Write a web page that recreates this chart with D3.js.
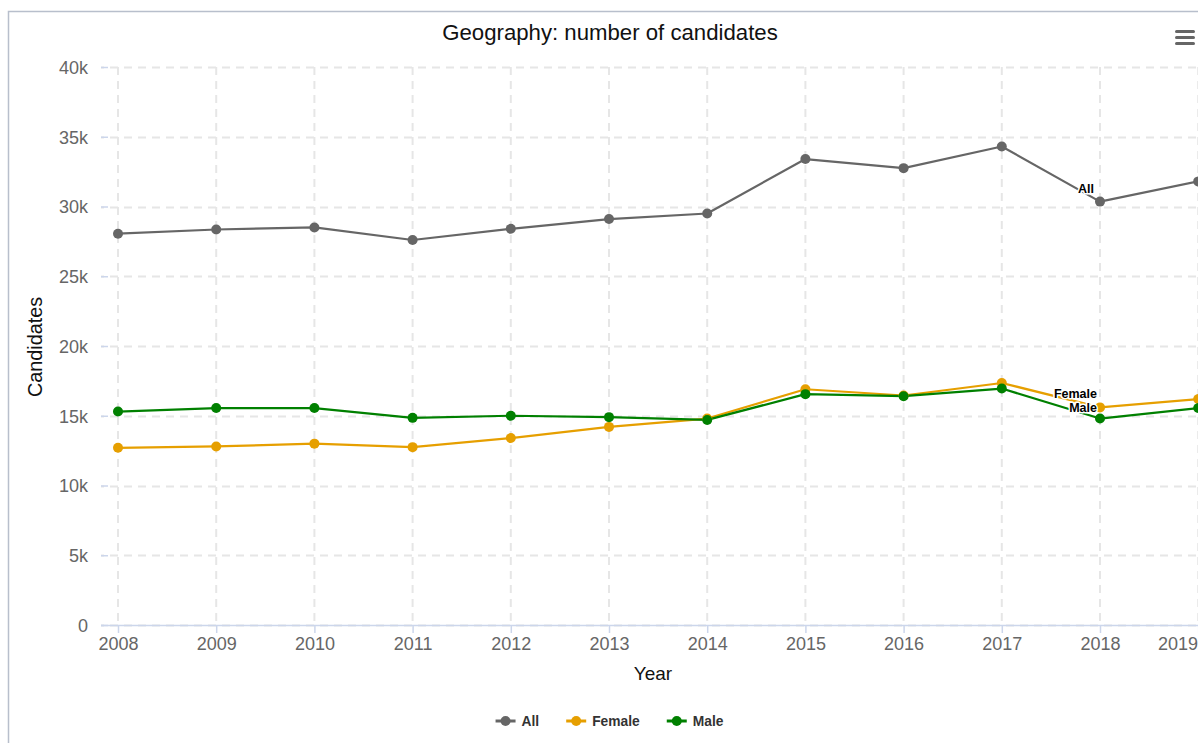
<!DOCTYPE html>
<html>
<head>
<meta charset="utf-8">
<script src="https://cdn.jsdelivr.net/npm/d3@7"></script>
<style>
html,body{margin:0;padding:0;background:#fff;overflow:hidden;}
svg{display:block;font-family:"Liberation Sans",Arial,Helvetica,sans-serif;}
</style>
</head>
<body>
<svg id="chart" width="1198" height="743"></svg>
<script>
const years = [2008,2009,2010,2011,2012,2013,2014,2015,2016,2017,2018,2019];
const allValues    = [28050,28350,28500,27600,28400,29100,29500,33400,32750,34300,30350,31800];
const femaleValues = [12700,12800,13000,12750,13400,14200,14800,16900,16450,17350,15600,16200];
const maleValues   = [15300,15550,15550,14850,15000,14900,14700,16550,16400,16950,14800,15550];
const yTicks = [0,5000,10000,15000,20000,25000,30000,35000,40000];
const yTickLabels = ["0","5k","10k","15k","20k","25k","30k","35k","40k"];
const seriesNames = ["All","Female","Male"];
const seriesColors = ["#666666","#E69F00","#008000"];
const seriesData = [allValues, femaleValues, maleValues];

const svg = d3.select("#chart");
const W = 1198, H = 743;
const plotLeft = 101, plotTop = 67, plotBottom = 625;

const x = d3.scaleLinear().domain([2008,2019]).range([118, 1198.2]);
const y = d3.scaleLinear().domain([0,40000]).range([plotBottom, plotTop]);

// container border
svg.append("path").attr("d", `M8.5,${H} L8.5,11.5 L${W},11.5`)
  .attr("fill","none").attr("stroke","#b8bfcc").attr("stroke-width",1.5);

// horizontal gridlines
svg.append("g").selectAll("line").data(yTicks).join("line")
  .attr("x1", plotLeft).attr("x2", W)
  .attr("y1", d => Math.round(y(d))+0.5).attr("y2", d => Math.round(y(d))+0.5)
  .attr("stroke","#e6e6e6").attr("stroke-width",2).attr("stroke-dasharray","8,6")
  .attr("stroke-dashoffset",-9);

// vertical gridlines
svg.append("g").selectAll("line").data(years).join("line")
  .attr("x1", d => x(d)).attr("x2", d => x(d))
  .attr("y1", plotTop).attr("y2", plotBottom)
  .attr("stroke","#e6e6e6").attr("stroke-width",2).attr("stroke-dasharray","8,6");

// y axis
const yAxis = d3.axisLeft(y).tickValues(yTicks).tickSize(7).tickPadding(13)
  .tickFormat((d,i) => yTickLabels[i]);
const gy = svg.append("g").attr("transform", `translate(${plotLeft+7},0)`).call(yAxis);
gy.select(".domain").remove();
gy.selectAll(".tick line").attr("stroke","#ccd6eb").attr("stroke-width",1.5);
gy.selectAll(".tick text").attr("fill","#666").style("font-size","18px")
  .style("font-family","'Liberation Sans',Arial,sans-serif").attr("dy","0.36em");

// x axis
const xAxis = d3.axisBottom(x).tickValues(years).tickSize(8).tickPadding(4)
  .tickFormat(d3.format("d"));
const gx = svg.append("g").attr("transform", `translate(0,${plotBottom})`).call(xAxis);
gx.select(".domain").remove();
gx.selectAll(".tick line").attr("stroke","#ccd6eb").attr("stroke-width",1.5);
gx.selectAll(".tick text").attr("fill","#666").style("font-size","18px")
  .style("font-family","'Liberation Sans',Arial,sans-serif");
// justify the last label inside the visible area
gx.selectAll(".tick text").filter(d => d === years[years.length-1])
  .attr("text-anchor","end").attr("dx", W - 0.5 - x(years[years.length-1]));
svg.append("line").attr("x1",plotLeft).attr("x2",W).attr("y1",plotBottom+0.5).attr("y2",plotBottom+0.5)
  .attr("stroke","#ccd6eb").attr("stroke-width",1.5);

// lines and markers
const line = d3.line().x((d,i) => x(years[i])).y(d => y(d));
seriesData.forEach((vals, si) => {
  svg.append("path").datum(vals).attr("d", line)
    .attr("fill","none").attr("stroke", seriesColors[si]).attr("stroke-width",2.2)
    .attr("stroke-linejoin","round");
});
seriesData.forEach((vals, si) => {
  svg.append("g").selectAll("circle").data(vals).join("circle")
    .attr("cx",(d,i) => x(years[i])).attr("cy", d => y(d)).attr("r",5)
    .attr("fill", seriesColors[si]);
});

// series labels (near 2018 segment)
const labelSpecs = [
  {name:"All", vals:allValues, dx:-14, dy:-9, anchor:"middle"},
  {name:"Female", vals:femaleValues, dx:-3, dy:-9, anchor:"end"},
  {name:"Male", vals:maleValues, dx:-3, dy:-7, anchor:"end"}
];
labelSpecs.forEach(s => {
  svg.append("text")
    .attr("x", x(2018) + s.dx).attr("y", y(s.vals[10]) + s.dy)
    .attr("text-anchor", s.anchor)
    .style("font-size","12.5px").style("font-weight","bold")
    .attr("fill","#000").attr("stroke","#fff").attr("stroke-width",3)
    .attr("paint-order","stroke").attr("stroke-linejoin","round")
    .text(s.name);
});

// title
svg.append("text").attr("x", 610).attr("y", 40).attr("text-anchor","middle")
  .style("font-size","22.2px").attr("fill","#111").text("Geography: number of candidates");

// axis titles
svg.append("text").attr("transform","translate(42,347) rotate(-90)").attr("text-anchor","middle")
  .style("font-size","19.8px").attr("fill","#111").text("Candidates");
svg.append("text").attr("x", 653).attr("y", 680).attr("text-anchor","middle")
  .style("font-size","19px").attr("fill","#111").text("Year");

// legend
const legend = svg.append("g");
let cx = 0;
seriesNames.forEach((n, i) => {
  const g = legend.append("g");
  g.append("line").attr("x1",0).attr("x2",20).attr("y1",0).attr("y2",0)
    .attr("stroke", seriesColors[i]).attr("stroke-width",3);
  g.append("circle").attr("cx",10).attr("cy",0).attr("r",5).attr("fill",seriesColors[i]);
  const t = g.append("text").attr("x",26).attr("y",5).style("font-size","13.8px")
    .style("font-weight","bold").attr("fill","#333").text(n);
  const w = 26 + t.node().getComputedTextLength();
  g.attr("transform", `translate(${cx},0)`);
  cx += w + 27;
});
const totalW = cx - 27;
legend.attr("transform", `translate(${609.5 - totalW/2},721)`);

// menu icon
[31.5, 37.5, 43.5].forEach(yy => {
  svg.append("line").attr("x1",1176.5).attr("x2",1193.5).attr("y1",yy).attr("y2",yy)
    .attr("stroke","#666").attr("stroke-width",3).attr("stroke-linecap","round");
});
</script>
</body>
</html>
